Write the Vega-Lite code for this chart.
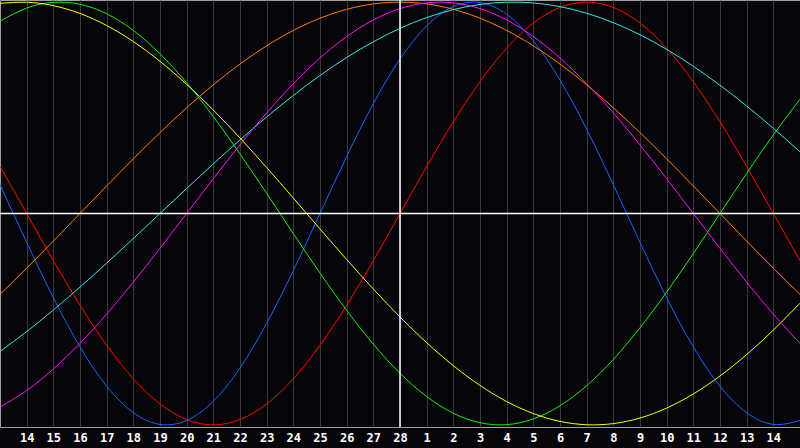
{
"$schema": "https://vega.github.io/schema/vega-lite/v6.json",
"width": 800, "height": 427,
"autosize": {"type": "none"},
"padding": {"left": 0, "top": 0, "right": 0, "bottom": 21},
"background": "#060509",
"config": {"view": {"stroke": "#a0a0a0", "strokeWidth": 1, "fill": "#060509"}, "axis": {"labelOverlap": false, "labelSeparation": 0}},
"datasets": {"curves": [
{"s":"red","t":-15,"v":0.2225},{"s":"red","t":-14,"v":0},{"s":"red","t":-13,"v":-0.2225},{"s":"red","t":-12,"v":-0.4339},{"s":"red","t":-11,"v":-0.6235},{"s":"red","t":-10,"v":-0.7818},{"s":"red","t":-9,"v":-0.901},{"s":"red","t":-8,"v":-0.9749},{"s":"red","t":-7,"v":-1},{"s":"red","t":-6,"v":-0.9749},{"s":"red","t":-5,"v":-0.901},{"s":"red","t":-4,"v":-0.7818},{"s":"red","t":-3,"v":-0.6235},{"s":"red","t":-2,"v":-0.4339},{"s":"red","t":-1,"v":-0.2225},{"s":"red","t":0,"v":0},{"s":"red","t":1,"v":0.2225},{"s":"red","t":2,"v":0.4339},{"s":"red","t":3,"v":0.6235},{"s":"red","t":4,"v":0.7818},{"s":"red","t":5,"v":0.901},{"s":"red","t":6,"v":0.9749},{"s":"red","t":7,"v":1},{"s":"red","t":8,"v":0.9749},{"s":"red","t":9,"v":0.901},{"s":"red","t":10,"v":0.7818},{"s":"red","t":11,"v":0.6235},{"s":"red","t":12,"v":0.4339},{"s":"red","t":13,"v":0.2225},{"s":"red","t":14,"v":0},{"s":"red","t":15,"v":-0.2225},
{"s":"blue","t":-15,"v":0.1362},{"s":"blue","t":-14,"v":-0.1362},{"s":"blue","t":-13,"v":-0.3984},{"s":"blue","t":-12,"v":-0.6311},{"s":"blue","t":-11,"v":-0.817},{"s":"blue","t":-10,"v":-0.9423},{"s":"blue","t":-9,"v":-0.9977},{"s":"blue","t":-8,"v":-0.9791},{"s":"blue","t":-7,"v":-0.8879},{"s":"blue","t":-6,"v":-0.7308},{"s":"blue","t":-5,"v":-0.5196},{"s":"blue","t":-4,"v":-0.2698},{"s":"blue","t":-3,"v":0},{"s":"blue","t":-2,"v":0.2698},{"s":"blue","t":-1,"v":0.5196},{"s":"blue","t":0,"v":0.7308},{"s":"blue","t":1,"v":0.8879},{"s":"blue","t":2,"v":0.9791},{"s":"blue","t":3,"v":0.9977},{"s":"blue","t":4,"v":0.9423},{"s":"blue","t":5,"v":0.817},{"s":"blue","t":6,"v":0.6311},{"s":"blue","t":7,"v":0.3984},{"s":"blue","t":8,"v":0.1362},{"s":"blue","t":9,"v":-0.1362},{"s":"blue","t":10,"v":-0.3984},{"s":"blue","t":11,"v":-0.6311},{"s":"blue","t":12,"v":-0.817},{"s":"blue","t":13,"v":-0.9423},{"s":"blue","t":14,"v":-0.9977},{"s":"blue","t":15,"v":-0.9791},
{"s":"green","t":-15,"v":0.9096},{"s":"green","t":-14,"v":0.9718},{"s":"green","t":-13,"v":0.9989},{"s":"green","t":-12,"v":0.9898},{"s":"green","t":-11,"v":0.945},{"s":"green","t":-10,"v":0.866},{"s":"green","t":-9,"v":0.7557},{"s":"green","t":-8,"v":0.6182},{"s":"green","t":-7,"v":0.4582},{"s":"green","t":-6,"v":0.2817},{"s":"green","t":-5,"v":0.0951},{"s":"green","t":-4,"v":-0.0951},{"s":"green","t":-3,"v":-0.2817},{"s":"green","t":-2,"v":-0.4582},{"s":"green","t":-1,"v":-0.6182},{"s":"green","t":0,"v":-0.7557},{"s":"green","t":1,"v":-0.866},{"s":"green","t":2,"v":-0.945},{"s":"green","t":3,"v":-0.9898},{"s":"green","t":4,"v":-0.9989},{"s":"green","t":5,"v":-0.9718},{"s":"green","t":6,"v":-0.9096},{"s":"green","t":7,"v":-0.8146},{"s":"green","t":8,"v":-0.6901},{"s":"green","t":9,"v":-0.5406},{"s":"green","t":10,"v":-0.3717},{"s":"green","t":11,"v":-0.1893},{"s":"green","t":12,"v":0},{"s":"green","t":13,"v":0.1893},{"s":"green","t":14,"v":0.3717},{"s":"green","t":15,"v":0.5406},
{"s":"yellow","t":-15,"v":0.994},{"s":"yellow","t":-14,"v":0.9993},{"s":"yellow","t":-13,"v":0.9834},{"s":"yellow","t":-12,"v":0.9464},{"s":"yellow","t":-11,"v":0.8894},{"s":"yellow","t":-10,"v":0.8133},{"s":"yellow","t":-9,"v":0.7199},{"s":"yellow","t":-8,"v":0.6112},{"s":"yellow","t":-7,"v":0.4895},{"s":"yellow","t":-6,"v":0.3572},{"s":"yellow","t":-5,"v":0.2174},{"s":"yellow","t":-4,"v":0.073},{"s":"yellow","t":-3,"v":-0.073},{"s":"yellow","t":-2,"v":-0.2174},{"s":"yellow","t":-1,"v":-0.3572},{"s":"yellow","t":0,"v":-0.4895},{"s":"yellow","t":1,"v":-0.6112},{"s":"yellow","t":2,"v":-0.7199},{"s":"yellow","t":3,"v":-0.8133},{"s":"yellow","t":4,"v":-0.8894},{"s":"yellow","t":5,"v":-0.9464},{"s":"yellow","t":6,"v":-0.9834},{"s":"yellow","t":7,"v":-0.9993},{"s":"yellow","t":8,"v":-0.994},{"s":"yellow","t":9,"v":-0.9675},{"s":"yellow","t":10,"v":-0.9204},{"s":"yellow","t":11,"v":-0.8535},{"s":"yellow","t":12,"v":-0.7686},{"s":"yellow","t":13,"v":-0.6673},{"s":"yellow","t":14,"v":-0.5517},{"s":"yellow","t":15,"v":-0.4244},
{"s":"orange","t":-15,"v":-0.3827},{"s":"orange","t":-14,"v":-0.2588},{"s":"orange","t":-13,"v":-0.1305},{"s":"orange","t":-12,"v":0},{"s":"orange","t":-11,"v":0.1305},{"s":"orange","t":-10,"v":0.2588},{"s":"orange","t":-9,"v":0.3827},{"s":"orange","t":-8,"v":0.5},{"s":"orange","t":-7,"v":0.6088},{"s":"orange","t":-6,"v":0.7071},{"s":"orange","t":-5,"v":0.7934},{"s":"orange","t":-4,"v":0.866},{"s":"orange","t":-3,"v":0.9239},{"s":"orange","t":-2,"v":0.9659},{"s":"orange","t":-1,"v":0.9914},{"s":"orange","t":0,"v":1},{"s":"orange","t":1,"v":0.9914},{"s":"orange","t":2,"v":0.9659},{"s":"orange","t":3,"v":0.9239},{"s":"orange","t":4,"v":0.866},{"s":"orange","t":5,"v":0.7934},{"s":"orange","t":6,"v":0.7071},{"s":"orange","t":7,"v":0.6088},{"s":"orange","t":8,"v":0.5},{"s":"orange","t":9,"v":0.3827},{"s":"orange","t":10,"v":0.2588},{"s":"orange","t":11,"v":0.1305},{"s":"orange","t":12,"v":0},{"s":"orange","t":13,"v":-0.1305},{"s":"orange","t":14,"v":-0.2588},{"s":"orange","t":15,"v":-0.3827},
{"s":"cyan","t":-15,"v":-0.6529},{"s":"cyan","t":-14,"v":-0.5587},{"s":"cyan","t":-13,"v":-0.4566},{"s":"cyan","t":-12,"v":-0.3482},{"s":"cyan","t":-11,"v":-0.2349},{"s":"cyan","t":-10,"v":-0.1183},{"s":"cyan","t":-9,"v":0},{"s":"cyan","t":-8,"v":0.1183},{"s":"cyan","t":-7,"v":0.2349},{"s":"cyan","t":-6,"v":0.3482},{"s":"cyan","t":-5,"v":0.4566},{"s":"cyan","t":-4,"v":0.5587},{"s":"cyan","t":-3,"v":0.6529},{"s":"cyan","t":-2,"v":0.7379},{"s":"cyan","t":-1,"v":0.8125},{"s":"cyan","t":0,"v":0.8758},{"s":"cyan","t":1,"v":0.9267},{"s":"cyan","t":2,"v":0.9646},{"s":"cyan","t":3,"v":0.989},{"s":"cyan","t":4,"v":0.9996},{"s":"cyan","t":5,"v":0.9961},{"s":"cyan","t":6,"v":0.9786},{"s":"cyan","t":7,"v":0.9473},{"s":"cyan","t":8,"v":0.9028},{"s":"cyan","t":9,"v":0.8457},{"s":"cyan","t":10,"v":0.7765},{"s":"cyan","t":11,"v":0.6965},{"s":"cyan","t":12,"v":0.6068},{"s":"cyan","t":13,"v":0.5086},{"s":"cyan","t":14,"v":0.4031},{"s":"cyan","t":15,"v":0.292},
{"s":"magenta","t":-15,"v":-0.9158},{"s":"magenta","t":-14,"v":-0.8372},{"s":"magenta","t":-13,"v":-0.7357},{"s":"magenta","t":-12,"v":-0.6142},{"s":"magenta","t":-11,"v":-0.4759},{"s":"magenta","t":-10,"v":-0.3247},{"s":"magenta","t":-9,"v":-0.1646},{"s":"magenta","t":-8,"v":0},{"s":"magenta","t":-7,"v":0.1646},{"s":"magenta","t":-6,"v":0.3247},{"s":"magenta","t":-5,"v":0.4759},{"s":"magenta","t":-4,"v":0.6142},{"s":"magenta","t":-3,"v":0.7357},{"s":"magenta","t":-2,"v":0.8372},{"s":"magenta","t":-1,"v":0.9158},{"s":"magenta","t":0,"v":0.9694},{"s":"magenta","t":1,"v":0.9966},{"s":"magenta","t":2,"v":0.9966},{"s":"magenta","t":3,"v":0.9694},{"s":"magenta","t":4,"v":0.9158},{"s":"magenta","t":5,"v":0.8372},{"s":"magenta","t":6,"v":0.7357},{"s":"magenta","t":7,"v":0.6142},{"s":"magenta","t":8,"v":0.4759},{"s":"magenta","t":9,"v":0.3247},{"s":"magenta","t":10,"v":0.1646},{"s":"magenta","t":11,"v":0},{"s":"magenta","t":12,"v":-0.1646},{"s":"magenta","t":13,"v":-0.3247},{"s":"magenta","t":14,"v":-0.4759},{"s":"magenta","t":15,"v":-0.6142}
]},
"layer": [
{"data": {"name": "curves"},
 "mark": {"type": "line", "interpolate": "natural", "strokeWidth": 1, "clip": true},
 "encoding": {
  "x": {"field": "t", "type": "quantitative", "scale": {"domain": [-15, 15], "nice": false, "zero": false},
   "axis": {"values": [-14,-13,-12,-11,-10,-9,-8,-7,-6,-5,-4,-3,-2,-1,0,1,2,3,4,5,6,7,8,9,10,11,12,13,14],
    "tickCount": 30,
    "grid": true, "gridColor": "#3a3a3a", "gridWidth": 1, "ticks": false, "domain": false,
    "labelColor": "#ffffff", "labelFont": "DejaVu Sans Mono", "labelFontWeight": "bold", "labelFontSize": 12,
    "labelPadding": 5, "labelFlush": false, "labelOverlap": false, "labelBound": false, "title": null,
    "labelExpr": "datum.value <= 0 ? 28 + datum.value : datum.value"}},
  "y": {"field": "v", "type": "quantitative", "scale": {"domain": [-1.01, 1.01], "nice": false, "zero": false}, "axis": null},
  "color": {"field": "s", "type": "nominal",
   "scale": {"domain": ["red","blue","green","yellow","orange","cyan","magenta"],
             "range": ["#ff0000","#1464ff","#10f010","#ffff00","#ff8000","#30e8e8","#ff10ff"]},
   "legend": null},
  "detail": {"field": "s"}
 }},
{"data": {"values": [{}]}, "mark": {"type": "rule", "color": "#ffffff", "strokeWidth": 1.5}, "encoding": {"y": {"datum": 0}}},
{"data": {"values": [{}]}, "mark": {"type": "rule", "color": "#ffffff", "strokeWidth": 1.5}, "encoding": {"x": {"datum": 0}}}
]
}
